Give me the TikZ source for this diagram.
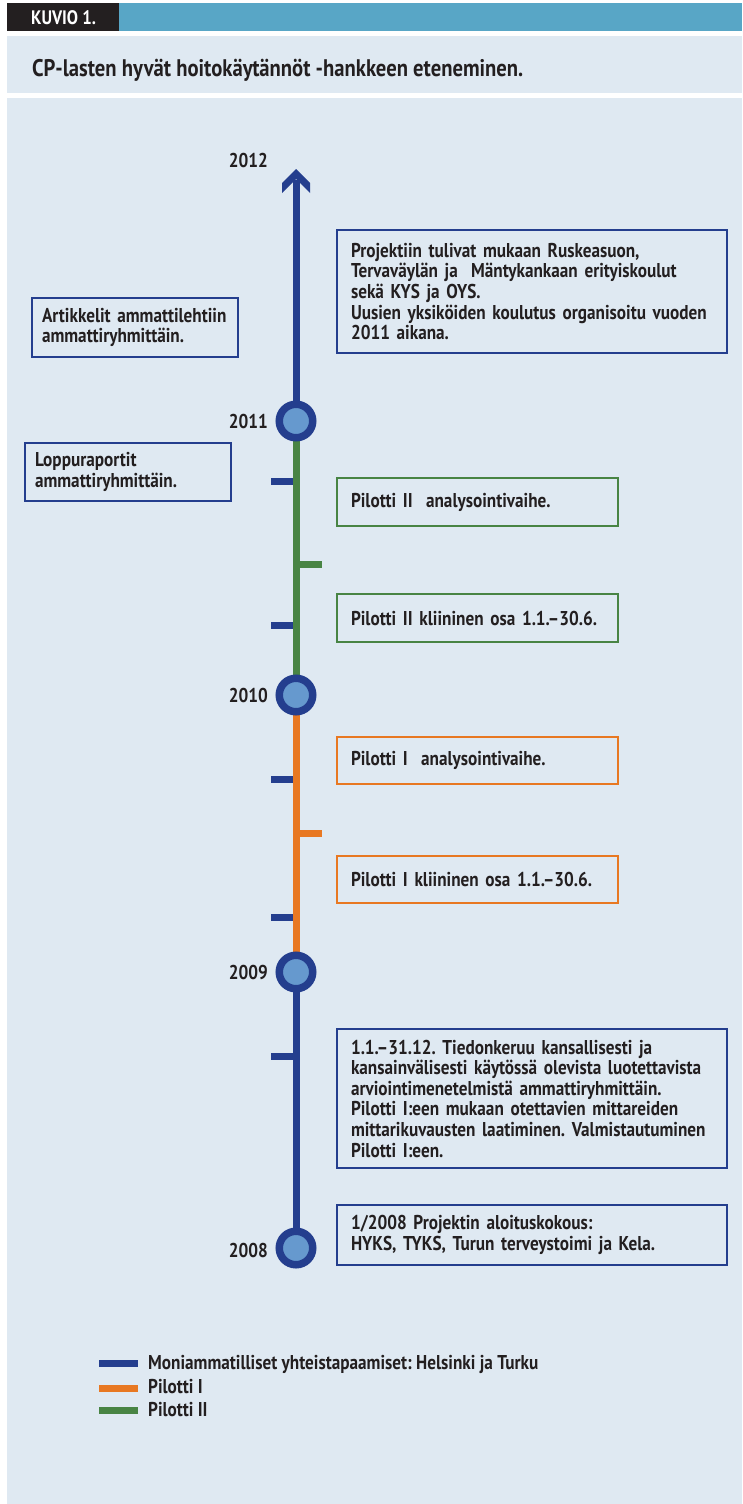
\documentclass[tikz,border=0pt]{standalone}
\usepackage{fontspec}
\newfontfamily\cf{PT Sans}[FakeStretch=0.86]
\frenchspacing
\definecolor{navy}{RGB}{36,62,142}
\definecolor{dotfill}{RGB}{102,153,206}
\definecolor{pgreen}{RGB}{72,132,68}
\definecolor{porange}{RGB}{232,120,34}
\definecolor{teal}{RGB}{88,166,198}
\definecolor{bglight}{RGB}{223,233,242}
\definecolor{ink}{RGB}{35,31,32}
\newcommand\boxfont{\cf\bfseries\fontsize{20}{20.6}\selectfont\frenchspacing}
\newcommand\titlefont{\cf\bfseries\fontsize{24}{26}\selectfont}
\tikzset{
  box/.style={draw=navy, line width=2.5pt, inner xsep=14pt, inner ysep=0pt,
    align=left, font=\boxfont, text=ink, anchor=center},
  gbox/.style={box, draw=pgreen, line width=2pt},
  obox/.style={box, draw=porange, line width=2pt},
  yearlbl/.style={font=\boxfont, text=ink, anchor=east, inner sep=0pt},
  dot/.style={circle, draw=navy, fill=dotfill, line width=7.5pt, minimum size=33.5pt, inner sep=0pt},
  seg/.style={line width=7pt},
  tickmark/.style={line width=7pt},
  legtext/.style={font=\boxfont, text=ink, anchor=base west, inner sep=0pt},
}
\begin{document}
\begin{tikzpicture}[x=1pt,y=-1pt]
\useasboundingbox (0,0) rectangle (742,1504);
% backgrounds
\fill[white] (0,0) rectangle (742,1504);
\fill[teal] (7,3) rectangle (742,31);
\fill[ink] (7,3) rectangle (119,31);
\fill[bglight] (7,36) rectangle (742,93);
\fill[bglight] (7,98) rectangle (742,1504);
\node[font=\cf\bfseries\fontsize{19.5}{21}\selectfont, text=white, anchor=base west, inner sep=0pt] (kuvio) at (31,25) {KUVIO 1.};
\node[font=\titlefont, text=ink, anchor=base west, inner sep=0pt] (title) at (32,77) {CP-lasten hyvät hoitokäytännöt -hankkeen eteneminen.};

% timeline coordinates
\coordinate (tip) at (296,169);
\coordinate (shaft) at (296,180);
\coordinate (y2011) at (296,421);
\coordinate (y2010) at (296,695);
\coordinate (y2009) at (296,972);
\coordinate (y2008) at (296,1248);

% segments
\draw[seg, navy] (shaft) -- (y2011);
\draw[seg, pgreen] (y2011) -- (y2010);
\draw[seg, porange] (y2010) -- (y2009);
\draw[seg, navy] (y2009) -- (y2008);
% arrow head
\fill[navy] (tip) -- (310,183) -- (310,193) -- (296,179) -- (282,193) -- (282,183) -- cycle;

% ticks
\draw[tickmark, navy] (271,481) -- (293,481);
\draw[tickmark, navy] (271,625) -- (293,625);
\draw[tickmark, navy] (271,779) -- (293,779);
\draw[tickmark, navy] (271,917) -- (293,917);
\draw[tickmark, navy] (271,1056) -- (293,1056);
\draw[tickmark, pgreen] (299,564) -- (322,564);
\draw[tickmark, porange] (299,833) -- (322,833);

% circles
\node[dot] (c2011) at (y2011) {};
\node[dot] (c2010) at (y2010) {};
\node[dot] (c2009) at (y2009) {};
\node[dot] (c2008) at (y2008) {};

% years
\node[yearlbl] (l2012) at (268,160) {2012};
\node[yearlbl] (l2011) at (268,421) {2011};
\node[yearlbl] (l2010) at (268,695) {2010};
\node[yearlbl] (l2009) at (268,972) {2009};
\node[yearlbl] (l2008) at (268,1250) {2008};

% boxes
\node[box, minimum width=390pt, minimum height=123pt, text width=362pt] (b1) at (532,291.5)
  {Projektiin tulivat mukaan Ruskeasuon,\\Tervaväylän ja\ \ Mäntykankaan erityiskoulut\\sekä KYS ja OYS.\\Uusien yksiköiden koulutus organisoitu vuoden\\2011 aikana.};
\node[box, inner xsep=10pt, minimum width=206pt, minimum height=59pt, text width=186pt] (art) at (135,327.5)
  {Artikkelit ammattilehtiin\\ammattiryhmittäin.};
\node[box, inner xsep=10pt, minimum width=206pt, minimum height=58pt, text width=186pt] (lop) at (128,472)
  {Loppuraportit\\ammattiryhmittäin.};
\node[gbox, minimum width=281pt, minimum height=48pt, text width=253pt] (p2a) at (477.5,502)
  {Pilotti II\ \ analysointivaihe.};
\node[gbox, minimum width=281pt, minimum height=48pt, text width=253pt] (p2k) at (477.5,618)
  {Pilotti II kliininen osa 1.1.–30.6.};
\node[obox, minimum width=281pt, minimum height=47pt, text width=253pt] (p1a) at (477.5,760.5)
  {Pilotti I\ \ analysointivaihe.};
\node[obox, minimum width=281pt, minimum height=47pt, text width=253pt] (p1k) at (477.5,879.5)
  {Pilotti I kliininen osa 1.1.–30.6.};
\node[box, minimum width=390pt, minimum height=139pt, text width=362pt] (b2) at (532,1098.5)
  {1.1.–31.12. Tiedonkeruu kansallisesti ja\\kansainvälisesti käytössä olevista luotettavista\\arviointimenetelmistä ammattiryhmittäin.\\Pilotti I:een mukaan otettavien mittareiden\\mittarikuvausten laatiminen. Valmistautuminen\\Pilotti I:een.};
\node[box, minimum width=390pt, minimum height=60pt, text width=362pt] (b3) at (532,1235)
  {1/2008 Projektin aloituskokous:\\HYKS, TYKS, Turun terveystoimi ja Kela.};

% legend
\draw[tickmark, navy] (99,1363) -- (138,1363);
\draw[tickmark, porange] (99,1388) -- (138,1388);
\draw[tickmark, pgreen] (99,1410) -- (138,1410);
\node[legtext] (lg1) at (148,1369) {Moniammatilliset yhteistapaamiset: Helsinki ja Turku};
\node[legtext] (lg2) at (148,1393) {Pilotti I};
\node[legtext] (lg3) at (148,1416) {Pilotti II};
\end{tikzpicture}
\end{document}
